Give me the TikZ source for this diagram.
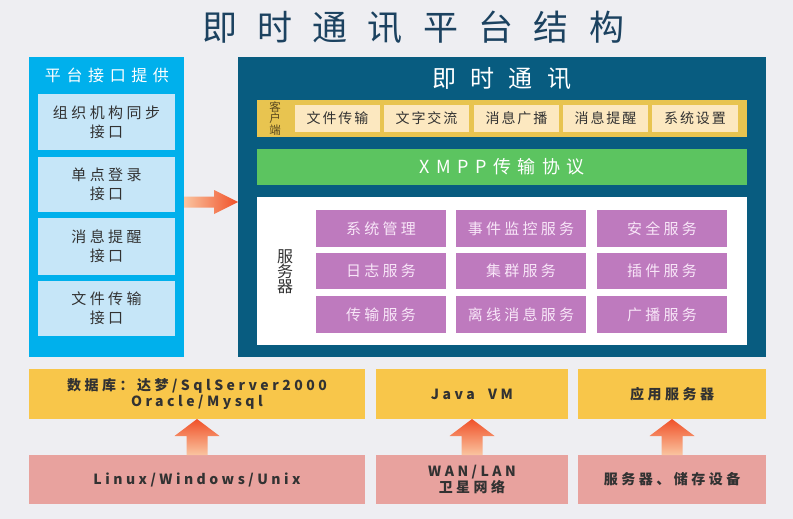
\documentclass[tikz,border=0pt]{standalone}
\usepackage{fontspec}
\setmainfont{Noto Sans CJK SC}
\usetikzlibrary{calc}
\definecolor{bg}{RGB}{238,238,242}
\definecolor{ttl}{RGB}{28,66,96}
\definecolor{cyanp}{RGB}{0,176,236}
\definecolor{subb}{RGB}{198,230,248}
\definecolor{mainp}{RGB}{8,92,128}
\definecolor{gold}{RGB}{232,196,80}
\definecolor{cream}{RGB}{252,232,192}
\definecolor{grn}{RGB}{92,196,96}
\definecolor{purp}{RGB}{190,122,190}
\definecolor{purtx}{RGB}{248,230,248}
\definecolor{ylw}{RGB}{248,198,74}
\definecolor{pnk}{RGB}{232,162,158}
\definecolor{arrR}{RGB}{240,80,40}
\definecolor{arrL}{RGB}{250,196,160}
\definecolor{dtx}{RGB}{50,50,50}
\definecolor{ctx}{RGB}{90,72,30}
\newcommand\bx[7]{\node[#1, minimum width={(#5-#3)*1pt}, minimum height={(#6-#4)*1pt}] (#2) at ({(#3+#5)/2},{(#4+#6)/2}) {#7};}
\begin{document}
\begin{tikzpicture}[x=1pt,y=-1pt,
  every node/.style={inner sep=0pt, outer sep=0pt, align=center},
  panelL/.style={fill=cyanp},
  subbox/.style={fill=subb, text=dtx, font=\fontsize{15}{19}\selectfont\addfontfeature{LetterSpace=23}},
  panelM/.style={fill=mainp},
  clientbar/.style={fill=gold},
  citem/.style={fill=cream, text=dtx, font=\fontsize{14}{15}\selectfont\addfontfeature{LetterSpace=14}},
  proto/.style={fill=grn, text=white, font=\fontsize{18}{19}\selectfont\addfontfeature{LetterSpace=36}},
  srvarea/.style={fill=white},
  svc/.style={fill=purp, text=purtx, font=\fontsize{15}{16}\selectfont\addfontfeature{LetterSpace=22}},
  base/.style={fill=ylw, text=dtx, font=\bfseries\fontsize{14}{15.5}\selectfont\addfontfeature{LetterSpace=25}},
  hw/.style={fill=pnk, text=dtx, font=\bfseries\fontsize{14}{15.5}\selectfont\addfontfeature{LetterSpace=25}},
  uparrow/.style={top color=arrR, bottom color=arrL, draw=none},
  rarrow/.style={left color=arrL, right color=arrR, draw=none}
]
\fill[bg] (0,0) rectangle (793,519);
\useasboundingbox (0,0) rectangle (793,519);
% title
\node[anchor=west, text=ttl, font=\fontsize{35}{38}\selectfont\addfontfeature{LetterSpace=58}] (title) at (202,27) {即时通讯平台结构};
% left panel
\bx{panelL}{L}{29}{57}{184}{357}{}
\node[anchor=west, text=white, font=\fontsize{16}{18}\selectfont\addfontfeature{LetterSpace=35}] (Lt) at (45,75) {平台接口提供};
\bx{subbox}{s1}{38}{94}{175}{150}{组织机构同步\\接口}
\bx{subbox}{s2}{38}{157}{175}{212}{单点登录\\接口}
\bx{subbox}{s3}{38}{218}{175}{275}{消息提醒\\接口}
\bx{subbox}{s4}{38}{281}{175}{336}{文件传输\\接口}
% main panel
\bx{panelM}{M}{238}{57}{766}{357}{}
\node[anchor=west, text=white, font=\fontsize{24}{26}\selectfont\addfontfeature{LetterSpace=60}] (Mt) at (432,79) {即时通讯};
\bx{clientbar}{C}{257}{100}{747}{137}{}
\node[text=ctx, font=\fontsize{11.5}{10}\selectfont] (Ct) at (275,118.5) {客\\户\\端};
\bx{citem}{c1}{295}{105}{380}{132}{文件传输}
\bx{citem}{c2}{384}{105}{469}{132}{文字交流}
\bx{citem}{c3}{474}{105}{559}{132}{消息广播}
\bx{citem}{c4}{563}{105}{648}{132}{消息提醒}
\bx{citem}{c5}{652}{105}{738}{132}{系统设置}
\bx{proto}{G}{257}{149}{747}{185}{XMPP传输协议}
\bx{srvarea}{W}{257}{197}{747}{345}{}
\node[text=dtx, font=\fontsize{16}{15}\selectfont] (Wt) at (285,272) {服\\务\\器};
\bx{svc}{v11}{316}{210}{446}{247}{系统管理}
\bx{svc}{v12}{456}{210}{586}{247}{事件监控服务}
\bx{svc}{v13}{597}{210}{727}{247}{安全服务}
\bx{svc}{v21}{316}{253}{446}{289}{日志服务}
\bx{svc}{v22}{456}{253}{586}{289}{集群服务}
\bx{svc}{v23}{597}{253}{727}{289}{插件服务}
\bx{svc}{v31}{316}{296}{446}{333}{传输服务}
\bx{svc}{v32}{456}{296}{586}{333}{离线消息服务}
\bx{svc}{v33}{597}{296}{727}{333}{广播服务}
% bottom rows
\bx{base}{y1}{29}{369}{365}{419}{数据库：达梦/SqlServer2000\\Oracle/Mysql}
\bx{base}{y2}{376}{369}{568}{419}{Java\ \ VM}
\bx{base}{y3}{578}{369}{766}{419}{应用服务器}
\bx{hw}{p1}{29}{455}{365}{504}{Linux/Windows/Unix}
\bx{hw}{p2}{376}{455}{568}{504}{WAN/LAN\\卫星网络}
\bx{hw}{p3}{578}{455}{766}{504}{服务器、储存设备}
% arrows
\foreach \t/\b in {y1/p1,y2/p2,y3/p3}{
  \shade[uparrow] (\t.south) -- ($(\t.south)+(22.5,17)$) -- ($(\t.south)+(10.5,17)$) -- ($(\b.north)+(10.5,0)$)
    -- ($(\b.north)+(-10.5,0)$) -- ($(\t.south)+(-10.5,17)$) -- ($(\t.south)+(-22.5,17)$) -- cycle;
}
\coordinate (la) at ($(L.east)+(0,-5)$);
\coordinate (ra) at ($(M.west)+(0,-5)$);
\shade[rarrow] (la) ++(0,-5.5) -- ($(ra)+(-24,-5.5)$) -- ($(ra)+(-24,-12)$) -- (ra) -- ($(ra)+(-24,12)$) -- ($(ra)+(-24,5.5)$) -- ($(la)+(0,5.5)$) -- cycle;
\end{tikzpicture}
\end{document}
